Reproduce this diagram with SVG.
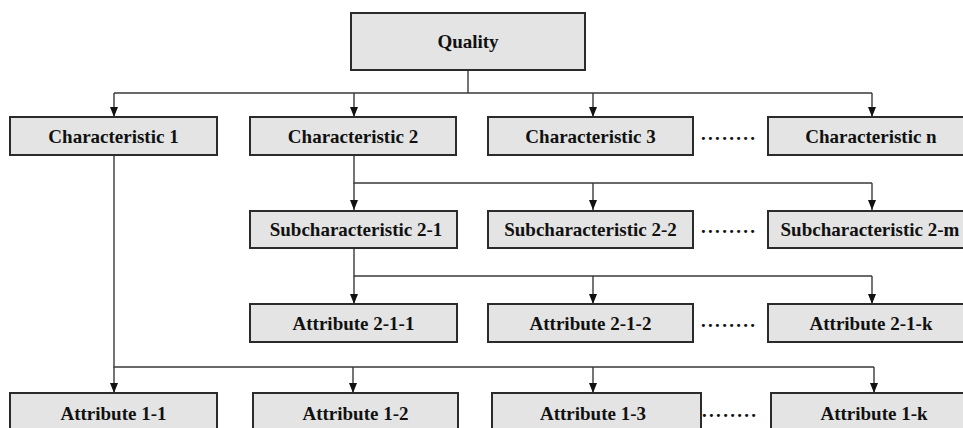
<svg xmlns="http://www.w3.org/2000/svg" width="963" height="428" viewBox="0 0 963 428">
  <style>
    .box { fill: #e4e4e4; stroke: #2b2b2b; stroke-width: 2; }
    .lbl { font-family: "Liberation Serif", "Times New Roman", serif; font-weight: bold; font-size: 19px; fill: #111111; text-anchor: middle; }
    .dots { font-family: "Liberation Serif", "Times New Roman", serif; font-weight: bold; font-size: 19px; fill: #111111; letter-spacing: 2.3px; }
    .wire { fill: none; stroke: #3a3a3a; stroke-width: 1.4; }
    .arrow { fill: none; stroke: #3a3a3a; stroke-width: 1.4; marker-end: url(#head); }
  </style>
  <defs>
    <!-- solid triangular arrowhead, tip at the end of the line -->
    <marker id="head" viewBox="0 0 10 8" refX="10" refY="4" markerWidth="10" markerHeight="8" markerUnits="userSpaceOnUse" orient="auto">
      <path d="M0,0 L10,4 L0,8 Z" fill="#111111"/>
    </marker>
  </defs>
  <rect width="963" height="428" fill="#ffffff"/>

  <g id="connectors">
    <!-- Quality to characteristics -->
    <path class="wire" d="M468,70 V93 M114,93 H872"/>
    <path class="arrow" d="M114,93 V117"/>
    <path class="arrow" d="M354,93 V117"/>
    <path class="arrow" d="M593,93 V117"/>
    <path class="arrow" d="M872,93 V117"/>
    <!-- Characteristic 2 to subcharacteristics -->
    <path class="wire" d="M354,155 V183 H872"/>
    <path class="arrow" d="M354,183 V210"/>
    <path class="arrow" d="M593,183 V210"/>
    <path class="arrow" d="M872,183 V210"/>
    <!-- Subcharacteristic 2-1 to its attributes -->
    <path class="wire" d="M354,248 V276 H872"/>
    <path class="arrow" d="M354,276 V304"/>
    <path class="arrow" d="M593,276 V304"/>
    <path class="arrow" d="M872,276 V304"/>
    <!-- Characteristic 1 to its attributes -->
    <path class="wire" d="M114,155 V367 H874"/>
    <path class="arrow" d="M114,367 V393"/>
    <path class="arrow" d="M353,367 V393"/>
    <path class="arrow" d="M593,367 V393"/>
    <path class="arrow" d="M874,367 V393"/>
  </g>

  <!-- root -->
  <g id="quality">
    <rect class="box" x="351" y="13" width="234" height="57"/>
    <text class="lbl" x="468" y="48">Quality</text>
  </g>

  <!-- characteristics -->
  <g id="char-1">
    <rect class="box" x="10" y="117" width="207" height="38"/>
    <text class="lbl" x="113.5" y="142.5">Characteristic 1</text>
  </g>
  <g id="char-2">
    <rect class="box" x="250" y="117" width="206" height="38"/>
    <text class="lbl" x="353" y="142.5">Characteristic 2</text>
  </g>
  <g id="char-3">
    <rect class="box" x="488" y="117" width="205" height="38"/>
    <text class="lbl" x="590.5" y="142.5">Characteristic 3</text>
  </g>
  <text class="dots" x="701" y="140">........</text>
  <g id="char-n">
    <rect class="box" x="768" y="117" width="207" height="38"/>
    <text class="lbl" x="871" y="142.5">Characteristic n</text>
  </g>

  <!-- subcharacteristics of characteristic 2 -->
  <g id="sub-2-1">
    <rect class="box" x="250" y="211" width="207" height="37"/>
    <text class="lbl" x="356" y="235.5">Subcharacteristic 2-1</text>
  </g>
  <g id="sub-2-2">
    <rect class="box" x="488" y="211" width="205" height="37"/>
    <text class="lbl" x="590.5" y="235.5">Subcharacteristic 2-2</text>
  </g>
  <text class="dots" x="701" y="233">........</text>
  <g id="sub-2-m">
    <rect class="box" x="768" y="211" width="207" height="37"/>
    <text class="lbl" x="870" y="235.5">Subcharacteristic 2-m</text>
  </g>

  <!-- attributes of subcharacteristic 2-1 -->
  <g id="attr-2-1-1">
    <rect class="box" x="250" y="304" width="207" height="38"/>
    <text class="lbl" x="353.5" y="329.5">Attribute 2-1-1</text>
  </g>
  <g id="attr-2-1-2">
    <rect class="box" x="488" y="304" width="205" height="38"/>
    <text class="lbl" x="590.5" y="329.5">Attribute 2-1-2</text>
  </g>
  <text class="dots" x="701" y="327">........</text>
  <g id="attr-2-1-k">
    <rect class="box" x="768" y="304" width="207" height="38"/>
    <text class="lbl" x="871" y="329.5">Attribute 2-1-k</text>
  </g>

  <!-- attributes of characteristic 1 -->
  <g id="attr-1-1">
    <rect class="box" x="10" y="393" width="207" height="38"/>
    <text class="lbl" x="113.5" y="419.5">Attribute 1-1</text>
  </g>
  <g id="attr-1-2">
    <rect class="box" x="253" y="393" width="205" height="38"/>
    <text class="lbl" x="355.5" y="419.5">Attribute 1-2</text>
  </g>
  <g id="attr-1-3">
    <rect class="box" x="492" y="393" width="209" height="38"/>
    <text class="lbl" x="593" y="419.5">Attribute 1-3</text>
  </g>
  <text class="dots" x="702" y="417">........</text>
  <g id="attr-1-k">
    <rect class="box" x="771" y="393" width="207" height="38"/>
    <text class="lbl" x="874" y="419.5">Attribute 1-k</text>
  </g>
</svg>
